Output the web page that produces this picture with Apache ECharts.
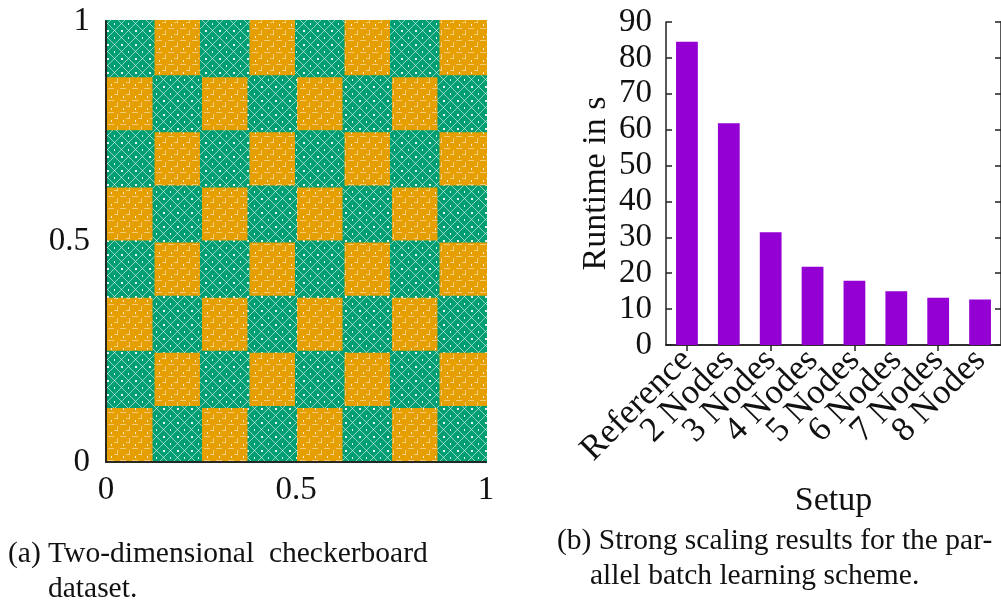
<!DOCTYPE html>
<html>
<head>
<meta charset="utf-8">
<script src="https://cdn.jsdelivr.net/npm/echarts@6/dist/echarts.min.js"></script>
<style>
  html, body { margin: 0; padding: 0; background: #fff; }
  #chart { width: 1001px; height: 603px; }
</style>
</head>
<body>
<div id="chart"></div>
<script>
// Checkerboard classes, top row first: 1 = green crosses, 0 = orange squares
const boardRows = [
  [1, 0, 1, 0, 1, 0, 1, 0],
  [0, 1, 0, 1, 0, 1, 0, 1],
  [1, 0, 1, 0, 1, 0, 1, 0],
  [0, 1, 0, 1, 0, 1, 0, 1],
  [1, 0, 1, 0, 1, 0, 1, 0],
  [0, 1, 0, 1, 0, 1, 0, 1],
  [1, 0, 1, 0, 1, 0, 1, 0],
  [0, 1, 0, 1, 0, 1, 0, 1]
];
// Cell boundaries along both axes of the unit square
const cellEdges = [0, 0.125, 0.25, 0.375, 0.5, 0.625, 0.75, 0.875, 1];
const boardTicks = [0, 0.5, 1];

// Strong scaling runtimes (seconds)
const setups = ['Reference', '2 Nodes', '3 Nodes', '4 Nodes', '5 Nodes', '6 Nodes', '7 Nodes', '8 Nodes'];
const runtimes = [84.5, 61.8, 31.4, 21.8, 17.9, 15.0, 13.2, 12.7];
const runtimeTicks = [0, 10, 20, 30, 40, 50, 60, 70, 80, 90];

const SERIF = '"Liberation Serif", "DejaVu Serif", serif';
const INK = '#111';
const FRAME = '#222';
const GREEN = '#009E73';
const ORANGE = '#E69F00';
const VIOLET = '#9400D3';

// Repeating textures imitating dense overlapping scatter markers
function crossTile() {
  const n = 14;
  const c = document.createElement('canvas');
  c.width = n; c.height = n;
  const g = c.getContext('2d');
  g.fillStyle = GREEN;
  g.fillRect(0, 0, n, n);
  g.strokeStyle = 'rgba(255,255,255,0.55)';
  g.lineWidth = 1;
  g.beginPath();
  g.moveTo(0, 0); g.lineTo(n, n);
  g.moveTo(5, 0); g.lineTo(0, 5);
  g.moveTo(n, 5); g.lineTo(5, n);
  g.stroke();
  g.fillStyle = 'rgba(255,255,255,0.9)';
  g.fillRect(9, 2, 2, 2);
  g.fillRect(2, 9, 1, 2);
  return c;
}
function squareTile() {
  const n = 12;
  const c = document.createElement('canvas');
  c.width = n; c.height = n;
  const g = c.getContext('2d');
  g.fillStyle = ORANGE;
  g.fillRect(0, 0, n, n);
  g.fillStyle = 'rgba(255,255,255,0.45)';
  g.fillRect(0, 4, 6, 1);
  g.fillRect(9, 6, 1, 5);
  g.fillRect(6, 10, 4, 1);
  g.fillStyle = 'rgba(255,255,255,0.8)';
  g.fillRect(3, 0, 1, 2);
  return c;
}
const crossFill = { image: crossTile(), repeat: 'repeat' };
const squareFill = { image: squareTile(), repeat: 'repeat' };

// One record per cell: [x0, x1, y0, y1]
function cellsOf(cls) {
  const out = [];
  boardRows.forEach((row, i) => {
    const r = boardRows.length - 1 - i;
    row.forEach((v, j) => {
      if (v === cls) out.push([cellEdges[j], cellEdges[j + 1], cellEdges[r], cellEdges[r + 1]]);
    });
  });
  return out;
}
function cellRenderer(fill) {
  return function (params, api) {
    const tl = api.coord([api.value(0), api.value(3)]);
    const br = api.coord([api.value(1), api.value(2)]);
    return {
      type: 'rect',
      shape: { x: tl[0] - 1, y: tl[1] - 1, width: br[0] - tl[0] + 2, height: br[1] - tl[1] + 2 },
      style: { fill: fill }
    };
  };
}

const tickFont = { fontFamily: SERIF, fontSize: 33, color: INK };
const frameLine = { show: true, lineStyle: { color: FRAME, width: 1.5 } };
const captionFont = '29.5px ' + SERIF;

const chart = echarts.init(document.getElementById('chart'), null, { renderer: 'canvas' });
chart.setOption({
  animation: false,
  backgroundColor: '#fff',
  grid: [
    { left: 106, top: 21, width: 380, height: 441 },
    { left: 666, top: 22, width: 337, height: 323 }
  ],
  xAxis: [
    {
      gridIndex: 0, type: 'value', min: boardTicks[0], max: boardTicks[2], interval: boardTicks[1],
      axisLine: frameLine, axisTick: { show: false }, splitLine: { show: false }, z: 5,
      axisLabel: Object.assign({ margin: 12 }, tickFont)
    },
    {
      gridIndex: 0, type: 'value', position: 'top', min: 0, max: 1,
      axisLine: frameLine, axisTick: { show: false }, splitLine: { show: false },
      axisLabel: { show: false }, z: 5
    },
    {
      gridIndex: 1, type: 'category', data: setups,
      axisLine: frameLine,
      axisTick: { show: true, inside: true, alignWithLabel: true, length: 6, lineStyle: { color: FRAME, width: 1.5 } },
      axisLabel: Object.assign({ rotate: 45, interval: 0, margin: 10 }, tickFont, { fontSize: 35 }),
      name: 'Setup', nameLocation: 'middle', nameGap: 139,
      nameTextStyle: { fontFamily: SERIF, fontSize: 34, color: INK }
    },
    {
      gridIndex: 1, type: 'category', data: setups, position: 'top',
      axisLine: frameLine,
      axisTick: { show: true, inside: true, alignWithLabel: true, length: 6, lineStyle: { color: FRAME, width: 1.5 } },
      axisLabel: { show: false }
    }
  ],
  yAxis: [
    {
      gridIndex: 0, type: 'value', min: boardTicks[0], max: boardTicks[2], interval: boardTicks[1],
      axisLine: frameLine, axisTick: { show: false }, splitLine: { show: false }, z: 5,
      axisLabel: Object.assign({ margin: 16 }, tickFont)
    },
    {
      gridIndex: 0, type: 'value', position: 'right', min: 0, max: 1,
      axisLine: frameLine, axisTick: { show: false }, splitLine: { show: false },
      axisLabel: { show: false }, z: 5
    },
    {
      gridIndex: 1, type: 'value', min: runtimeTicks[0], max: runtimeTicks[runtimeTicks.length - 1],
      interval: runtimeTicks[1] - runtimeTicks[0],
      axisLine: frameLine, splitLine: { show: false },
      axisTick: { show: true, inside: true, length: 6, lineStyle: { color: FRAME, width: 1.5 } },
      axisLabel: Object.assign({ margin: 14 }, tickFont),
      name: 'Runtime in s', nameLocation: 'middle', nameGap: 53,
      nameTextStyle: { fontFamily: SERIF, fontSize: 34, color: INK }
    },
    {
      gridIndex: 1, type: 'value', position: 'right', min: 0, max: 90, interval: 10,
      axisLine: frameLine, splitLine: { show: false },
      axisTick: { show: true, inside: true, length: 6, lineStyle: { color: FRAME, width: 1.5 } },
      axisLabel: { show: false }
    }
  ],
  series: [
    {
      name: 'squares', type: 'custom', xAxisIndex: 0, yAxisIndex: 0,
      data: cellsOf(0), encode: { x: [0, 1], y: [2, 3] },
      renderItem: cellRenderer(squareFill), z: 2
    },
    {
      name: 'crosses', type: 'custom', xAxisIndex: 0, yAxisIndex: 0,
      data: cellsOf(1), encode: { x: [0, 1], y: [2, 3] },
      renderItem: cellRenderer(crossFill), z: 3
    },
    {
      name: 'runtime', type: 'bar', xAxisIndex: 2, yAxisIndex: 2,
      data: runtimes, barWidth: '52%',
      itemStyle: { color: VIOLET }
    }
  ],
  graphic: [
    { type: 'text', left: 8, top: 539, style: { text: '(a) Two-dimensional  checkerboard', font: captionFont, fill: INK } },
    { type: 'text', left: 48, top: 574, style: { text: 'dataset.', font: captionFont, fill: INK } },
    { type: 'text', left: 557, top: 526, style: { text: '(b) Strong scaling results for the par-', font: captionFont, fill: INK } },
    { type: 'text', left: 590, top: 561, style: { text: 'allel batch learning scheme.', font: captionFont, fill: INK } }
  ]
});
</script>
</body>
</html>
